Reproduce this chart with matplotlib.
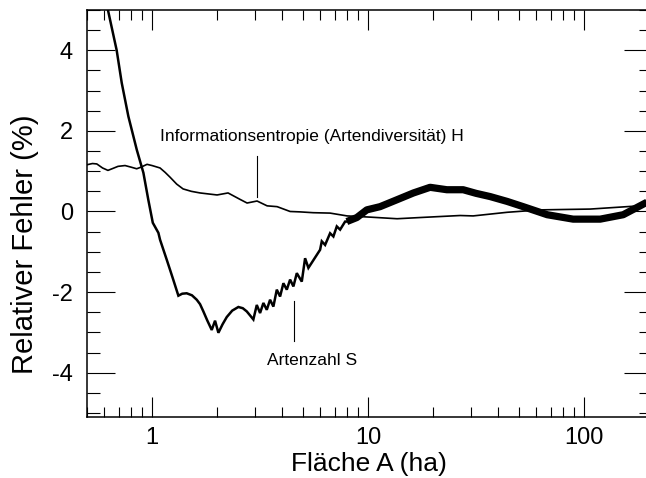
import matplotlib
matplotlib.use("Agg")
import matplotlib.pyplot as plt
from matplotlib.ticker import MultipleLocator, LogLocator, NullFormatter, FixedLocator, FixedFormatter

plt.rcParams['font.family'] = ['Liberation Sans', 'DejaVu Sans']

# Artenzahl S (relative error, %), smooth/sawtooth part
S_area = [0.600, 0.625, 0.686, 0.724, 0.777, 0.850, 0.912, 0.961, 1.008, 1.070,
          1.089, 1.170, 1.212, 1.255, 1.324, 1.380, 1.447, 1.53, 1.610, 1.668,
          1.728, 1.80, 1.889, 1.957, 2.028, 2.12, 2.217, 2.35, 2.509, 2.63,
          2.744, 2.843, 2.944,
          3.053, 3.162, 3.276, 3.396, 3.518, 3.644, 3.779, 3.914, 4.054, 4.204,
          4.355, 4.511, 4.677, 4.932, 5.109, 5.292, 5.995, 6.103, 6.323, 6.668,
          6.907, 7.162, 7.421, 7.826, 7.97]
S_err = [5.8, 5.0, 4.0, 3.19, 2.36, 1.53, 0.96, 0.29, -0.28, -0.53,
         -0.70, -1.20, -1.45, -1.70, -2.09, -2.04, -2.03, -2.08, -2.19, -2.30,
         -2.48, -2.70, -2.94, -2.71, -3.01, -2.80, -2.62, -2.46, -2.37, -2.40,
         -2.48, -2.58, -2.68,
         -2.32, -2.52, -2.27, -2.44, -2.19, -2.36, -1.94, -2.11, -1.78, -1.94,
         -1.69, -1.86, -1.53, -1.74, -1.16, -1.40, -0.95, -0.74, -0.83, -0.54,
         -0.62, -0.37, -0.45, -0.25, -0.25]

# Artenzahl S, densely oscillating part (drawn as a band)
S_band_area = [7.97, 8.87, 9.86, 11.36, 13.58, 16.21, 19.36, 23.14, 27.54, 31.6,
               36.72, 44.0, 52.2, 67.4, 88.9, 118.6, 151.6, 193.6, 206.0]
S_band_err = [-0.25, -0.15, 0.04, 0.12, 0.29, 0.46, 0.60, 0.54, 0.54, 0.45,
              0.37, 0.25, 0.12, -0.08, -0.19, -0.19, -0.08, 0.22, 0.30]

# Informationsentropie H (relative error, %)
H_area = [0.500, 0.530, 0.555, 0.590, 0.625, 0.660, 0.696, 0.750, 0.800, 0.849,
          0.889, 0.948, 1.0, 1.089, 1.15, 1.212, 1.30, 1.392, 1.52, 1.668,
          2.0, 2.248, 2.555, 2.753, 3.062, 3.408, 3.791, 4.355, 4.844, 5.565,
          6.668, 7.995, 10.21, 13.62, 17.41, 26.67, 30.63, 44.0, 62.6, 106.6,
          158.1, 206.0]
H_err = [1.16, 1.19, 1.18, 1.08, 1.02, 1.07, 1.12, 1.14, 1.10, 1.06,
         1.10, 1.17, 1.14, 1.08, 0.97, 0.85, 0.68, 0.56, 0.50, 0.46,
         0.41, 0.46, 0.30, 0.21, 0.26, 0.14, 0.12, 0.0, -0.01, -0.03,
         -0.04, -0.11, -0.14, -0.18, -0.15, -0.10, -0.11, -0.02, 0.04, 0.06,
         0.12, 0.16]

y_major = [-4, -2, 0, 2, 4]
y_labels = ['-4', '-2', '0', '2', '4']
x_major = [1, 10, 100]
x_labels = ['1', '10', '100']

fig = plt.figure(figsize=(6.46, 4.78), dpi=100)
ax = fig.add_axes([87/646, 1 - 417/478, (652 - 87)/646, (417 - 10)/478])

ax.plot(H_area, H_err, color='black', lw=1.2, solid_joinstyle='round')
ax.plot(S_area, S_err, color='black', lw=1.8, solid_joinstyle='miter')
ax.plot(S_band_area, S_band_err, color='black', lw=5.2, solid_capstyle='butt',
        solid_joinstyle='round')

ax.set_xscale('log')
ax.set_xlim(0.5, 206)
ax.set_ylim(-5.1, 5.0)

ax.xaxis.set_major_locator(FixedLocator(x_major))
ax.xaxis.set_major_formatter(FixedFormatter(x_labels))
ax.xaxis.set_minor_locator(LogLocator(base=10, subs=range(2, 10), numticks=20))
ax.xaxis.set_minor_formatter(NullFormatter())
ax.yaxis.set_major_locator(FixedLocator(y_major))
ax.yaxis.set_major_formatter(FixedFormatter(y_labels))
ax.yaxis.set_minor_locator(MultipleLocator(0.5))

ax.tick_params(axis='x', which='major', direction='in', length=14.5, width=0.8,
               top=True, bottom=True, labelsize=17, pad=7)
ax.tick_params(axis='x', which='minor', direction='in', length=7.2, width=0.8,
               top=True, bottom=True)
ax.tick_params(axis='y', which='major', direction='in', length=20, width=0.8,
               left=True, right=True, labelsize=17, pad=10)
ax.tick_params(axis='y', which='minor', direction='in', length=9.5, width=0.8,
               left=True, right=True)

for sp in ax.spines.values():
    sp.set_linewidth(1.1)

ax.text(1.089, 1.75, 'Informationsentropie (Artendiversität) H', fontsize=12.5,
        ha='left', va='baseline')
ax.plot([3.05, 3.05], [0.36, 1.38], color='black', lw=0.8)
ax.text(3.397, -3.80, 'Artenzahl S', fontsize=12.5, ha='left', va='baseline')
ax.plot([4.56, 4.56], [-2.22, -3.22], color='black', lw=0.8)

fig.text(369/646, 1 - 464/478, 'Fläche A (ha)', fontsize=19, ha='center', va='center')
fig.text(25/646, 1 - 244/478, 'Relativer Fehler (%)', fontsize=21, rotation=90,
         ha='center', va='center')

fig.savefig('out.png', dpi=100)
